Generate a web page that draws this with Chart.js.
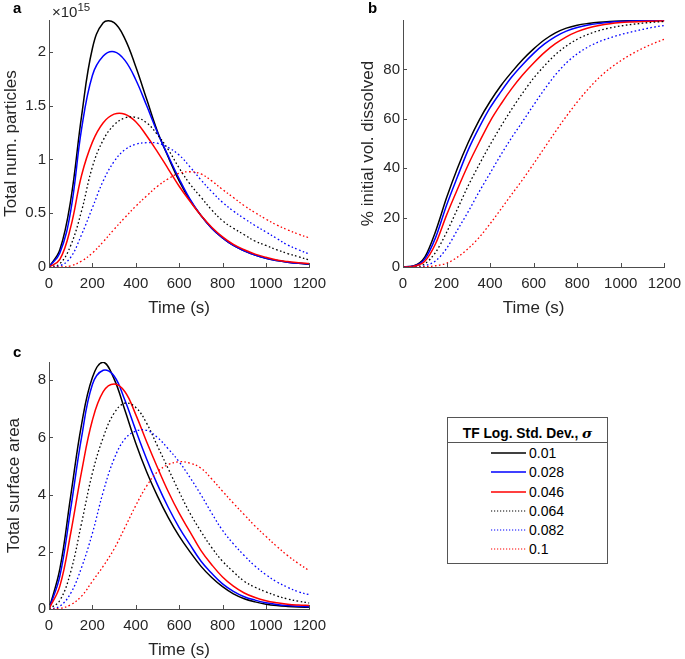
<!DOCTYPE html>
<html><head><meta charset="utf-8">
<script src="https://cdn.jsdelivr.net/npm/chart.js@4.4.1/dist/chart.umd.min.js"></script>
<style>
html,body{margin:0;padding:0;background:#fff;width:685px;height:659px;overflow:hidden;}
body{position:relative;font-family:'Liberation Sans',Arial,sans-serif;color:#262626;}
canvas{position:absolute;}
.plbl{position:absolute;font-weight:bold;font-size:15px;line-height:15px;color:#000;}
#legend{position:absolute;left:447px;top:417px;width:161px;height:147px;box-sizing:border-box;border:1px solid #555;background:#fff;}
#legend .hdr{position:absolute;left:0;right:0;top:7px;line-height:16px;text-align:center;font-weight:bold;font-size:13.8px;color:#000;}
#legend .sep{position:absolute;left:0;right:0;top:24px;height:1px;background:#555;}
#legend .txt{position:absolute;font-size:14px;line-height:16px;color:#000;}
#legend svg{position:absolute;}
</style></head><body>
<canvas id="ca" width="334" height="319" style="left:0;top:0"></canvas>
<canvas id="cb" width="332" height="319" style="left:357px;top:0"></canvas>
<canvas id="cc" width="334" height="319" style="left:0;top:342px"></canvas>
<div class="plbl" style="left:13px;top:0px">a</div>
<div class="plbl" style="left:368px;top:0px">b</div>
<div class="plbl" style="left:13px;top:344px">c</div>
<div style="position:absolute;left:52px;top:4px;font-size:15px;line-height:15px;color:#262626">×10<span style="font-size:11.5px;position:relative;top:-6px">15</span></div>
<div id="legend"></div>
<script>
// ---- data ----
const times = [0,50,100,150,200,250,300,350,400,450,500,550,600,650,700,750,800,850,900,950,1000,1050,1100,1150,1200];
const seriesLabels = ['0.01','0.028','0.046','0.064','0.082','0.1'];
const legendTitle = 'TF Log. Std. Dev., ';
const xTicks = [0,200,400,600,800,1000,1200];
const aTicks = [0,0.5,1,1.5,2];
const bTicks = [0,20,40,60,80];
const cTicks = [0,2,4,6,8];

// panel a: total number of particles (x 1e15)
const a001 = [0,0.16,0.62,1.40,2.03,2.27,2.27,2.12,1.86,1.56,1.26,1.02,0.80,0.62,0.48,0.36,0.27,0.20,0.15,0.11,0.08,0.06,0.045,0.034,0.025];
const a028 = [0,0.13,0.52,1.28,1.78,1.96,2.0,1.92,1.74,1.50,1.25,1.03,0.82,0.63,0.48,0.36,0.27,0.20,0.15,0.11,0.08,0.06,0.045,0.034,0.027];
const a046 = [0,0.07,0.37,0.85,1.16,1.34,1.42,1.42,1.35,1.22,1.07,0.91,0.75,0.61,0.48,0.37,0.28,0.21,0.16,0.12,0.09,0.065,0.05,0.04,0.032];
const a064 = [0,0.03,0.20,0.52,0.93,1.18,1.32,1.385,1.39,1.34,1.23,1.09,0.92,0.77,0.65,0.53,0.43,0.36,0.30,0.24,0.20,0.16,0.125,0.095,0.065];
const a082 = [0,0.01,0.09,0.30,0.55,0.80,0.98,1.09,1.14,1.155,1.15,1.11,1.04,0.93,0.81,0.70,0.60,0.52,0.45,0.385,0.326,0.265,0.205,0.16,0.12];
const a100 = [0,0,0.01,0.055,0.13,0.235,0.35,0.46,0.565,0.66,0.75,0.82,0.87,0.885,0.865,0.80,0.72,0.645,0.57,0.505,0.445,0.39,0.345,0.305,0.27];

// panel b: % initial volume dissolved
const b001 = [0,0.5,4,14.5,28,40,50.5,59.5,67,73.5,79,84,88.3,92,94.8,96.7,97.9,98.6,99.1,99.4,99.6,99.75,99.85,99.92,99.97];
const b028 = [0,0.4,3.2,12,25,36.5,47.5,56.5,64.5,71,77,82,86.5,90.3,93.3,95.5,97,98,98.6,99.05,99.35,99.55,99.7,99.8,99.88];
const b046 = [0,0.3,2.3,9.5,21,31.5,41.5,50.5,59,66,72.3,77.8,82.6,86.9,90.4,93.2,95.3,96.8,97.8,98.5,98.95,99.2,99.4,99.5,99.6];
const b064 = [0,0.1,1.3,6,14,23.5,33,41.5,49.5,57,64,70.5,76.5,81.5,86,89.5,92.2,94.2,95.7,96.8,97.6,98.2,98.7,99.1,99.4];
const b082 = [0,0.05,0.5,2.5,7.5,15,22.5,30.5,38,45.5,52.5,59,65.6,72,77.8,82.6,86.3,89.1,91.2,92.8,94.1,95.2,96.2,97.1,97.8];
const b100 = [0,0,0.1,0.5,1.5,4,7.5,12,17.5,23.5,29.5,35.5,41.8,48.3,54.8,61,66.8,72,76.6,80.4,83.5,86.2,88.5,90.5,92.2];

// panel c: total surface area
const c001 = [0,1.4,3.95,6.45,8.1,8.63,8.05,6.95,5.8,4.8,3.95,3.2,2.55,2.0,1.5,1.1,0.78,0.53,0.36,0.25,0.17,0.12,0.09,0.07,0.06];
const c028 = [0,1.15,3.5,6.0,7.85,8.35,8.15,7.3,6.25,5.25,4.35,3.55,2.85,2.25,1.68,1.25,0.88,0.62,0.43,0.31,0.22,0.16,0.12,0.1,0.08];
const c046 = [0,0.8,2.65,4.8,6.6,7.6,7.87,7.6,6.8,5.85,4.95,4.1,3.35,2.7,2.05,1.55,1.12,0.8,0.56,0.4,0.29,0.22,0.17,0.14,0.12];
const c064 = [0,0.3,1.3,3.0,4.75,6.0,6.85,7.2,7.05,6.5,5.7,4.9,4.1,3.35,2.72,2.15,1.67,1.3,0.97,0.76,0.6,0.46,0.35,0.27,0.21];
const c082 = [0,0.1,0.55,1.45,2.65,4.1,5.25,5.95,6.22,6.25,6.0,5.6,5.15,4.6,4.0,3.35,2.75,2.28,1.87,1.5,1.2,0.95,0.76,0.6,0.5];
const c100 = [0,0.02,0.15,0.45,0.97,1.5,2.1,2.85,3.62,4.3,4.8,5.05,5.15,5.1,4.93,4.55,4.12,3.7,3.3,2.9,2.54,2.19,1.87,1.59,1.34];

// ---- styles ----
const COLORS = ['#000000','#0000ff','#ff0000','#000000','#0000ff','#ff0000'];
const DOTTED = [false,false,false,true,true,true];
const AXIS = '#4d4d4d';
const TXT = '#262626';
const FAMILY = "'Liberation Sans', Arial, sans-serif";

function datasets(list, mode){
  return list.map((vals,i)=>({
    label: seriesLabels[i],
    data: times.map((t,k)=>({x:t,y:vals[k]})),
    borderColor: COLORS[i],
    borderWidth: DOTTED[i] ? 1.3 : 1.5,
    borderDash: DOTTED[i] ? [1.6,2.4] : [],
    pointRadius: 0,
    fill: false,
    tension: 0.4,
    cubicInterpolationMode: mode,
    order: 5 - i
  }));
}

const inwardTicks = {
  id: 'inwardTicks',
  afterDatasetsDraw(chart){
    const {ctx, chartArea, scales:{x,y}} = chart;
    ctx.save();
    ctx.strokeStyle = AXIS; ctx.lineWidth = 1;
    ctx.beginPath();
    x.ticks.forEach(t=>{const px=Math.round(x.getPixelForValue(t.value))+0.5; ctx.moveTo(px,chartArea.bottom); ctx.lineTo(px,chartArea.bottom-4);});
    y.ticks.forEach(t=>{const py=Math.round(y.getPixelForValue(t.value))+0.5; ctx.moveTo(chartArea.left,py); ctx.lineTo(chartArea.left+4,py);});
    ctx.stroke();
    ctx.restore();
  }
};

function makeChart(id, list, mode, yMax, yTicks, yTitle, yWidth, yTitlePad){
  return new Chart(document.getElementById(id), {
    type: 'line',
    data: { datasets: datasets(list, mode) },
    options: {
      responsive: false, animation: false, devicePixelRatio: 1, events: [],
      layout: { padding: { top: 20, right: 20, left: 0, bottom: 0 } },
      plugins: { legend: { display: false }, tooltip: { enabled: false } },
      scales: {
        x: {
          type: 'linear', min: 0, max: 1200,
          afterBuildTicks: s => { s.ticks = xTicks.map(v=>({value:v})); },
          afterFit: s => { s.height = 52; },
          grid: { drawOnChartArea: false, drawTicks: false },
          border: { display: true, color: AXIS, width: 1 },
          ticks: { padding: 8, autoSkip: false, maxRotation: 0, color: TXT, font: { family: FAMILY, size: 15 }, callback: v => String(v) },
          title: { display: true, text: 'Time (s)', color: TXT, font: { family: FAMILY, size: 17 }, padding: { top: 0, bottom: 0 } }
        },
        y: {
          type: 'linear', min: 0, max: yMax,
          afterBuildTicks: s => { s.ticks = yTicks.map(v=>({value:v})); },
          afterFit: s => { s.width = yWidth; },
          grid: { drawOnChartArea: false, drawTicks: false },
          border: { display: true, color: AXIS, width: 1 },
          ticks: { padding: 3, color: TXT, font: { family: FAMILY, size: 15 }, callback: v => String(v) },
          title: { display: true, text: yTitle, color: TXT, font: { family: FAMILY, size: 17 }, padding: { top: yTitlePad, bottom: 0 } }
        }
      }
    },
    plugins: [inwardTicks]
  });
}

makeChart('ca', [a001,a028,a046,a064,a082,a100], 'default', 2.295, aTicks, 'Total num. particles', 49, 1);
makeChart('cb', [b001,b028,b046,b064,b082,b100], 'monotone', 100, bTicks, '% initial vol. dissolved', 46, 1);
makeChart('cc', [c001,c028,c046,c064,c082,c100], 'default', 8.64, cTicks, 'Total surface area', 49, 4);

// ---- legend ----
const lg = document.getElementById('legend');
let html = '<div class="hdr">' + legendTitle + '<i style="font-family:\'DejaVu Serif\',serif">σ</i></div><div class="sep"></div>';
seriesLabels.forEach((lab,i)=>{
  const cy = 35.3 + i*19.15;
  const dash = DOTTED[i] ? ' stroke-dasharray="1.2 1.8"' : '';
  const sw = DOTTED[i] ? 1.1 : 1.5;
  html += '<svg width="36" height="6" style="left:43px;top:'+(cy-3)+'px"><line x1="0" y1="3" x2="35" y2="3" stroke="'+COLORS[i]+'" stroke-width="'+sw+'"'+dash+'/></svg>';
  html += '<div class="txt" style="left:81px;top:'+(cy-8)+'px">'+lab+'</div>';
});
lg.innerHTML = html;
</script>
</body></html>
